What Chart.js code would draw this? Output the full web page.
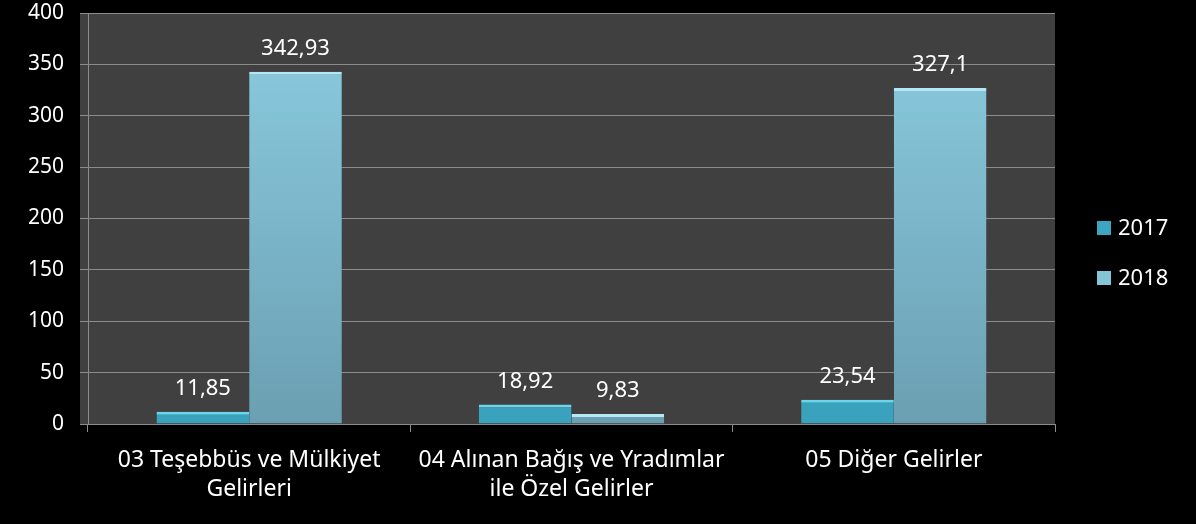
<!DOCTYPE html>
<html>
<head>
<meta charset="utf-8">
<script src="https://cdn.jsdelivr.net/npm/chart.js@4.4.1/dist/chart.umd.min.js"></script>
<style>
  html, body { margin: 0; padding: 0; background: #000; }
  #wrap { width: 1196px; height: 524px; }
</style>
</head>
<body>
<div id="wrap"><canvas id="chart" width="1196" height="524"></canvas></div>
<script>
const categories = [
  ['03 Teşebbüs ve Mülkiyet', 'Gelirleri'],
  ['04 Alınan Bağış ve Yradımlar', 'ile Özel Gelirler'],
  ['05 Diğer Gelirler']
];
const values2017 = [11.85, 18.92, 23.54];
const values2018 = [342.93, 9.83, 327.1];
const seriesNames = ['2017', '2018'];
const yTicks = [0, 50, 100, 150, 200, 250, 300, 350, 400];

const FONT = '"Noto Sans", "Open Sans", sans-serif';

function grad(ctx, top, bottom) {
  const area = ctx.chart.chartArea;
  if (!area) return bottom;
  const g = ctx.chart.ctx.createLinearGradient(0, area.top, 0, area.bottom);
  g.addColorStop(0, top);
  g.addColorStop(1, bottom);
  return g;
}

// dark plot background
const plotBg = {
  id: 'plotBg',
  beforeDraw(chart) {
    const { ctx, chartArea: a } = chart;
    ctx.save();
    ctx.fillStyle = '#404040';
    ctx.fillRect(a.left - 8, a.top, a.right - a.left + 8, a.bottom - a.top + 1);
    ctx.restore();
  }
};

// value labels above bars, comma decimals
const valueLabels = {
  id: 'valueLabels',
  afterDatasetsDraw(chart) {
    const { ctx } = chart;
    ctx.save();
    ctx.fillStyle = '#ffffff';
    ctx.font = '22px ' + FONT;
    ctx.textAlign = 'center';
    ctx.textBaseline = 'bottom';
    chart.data.datasets.forEach((ds, i) => {
      chart.getDatasetMeta(i).data.forEach((bar, j) => {
        const txt = String(ds.data[j]).replace('.', ',');
        ctx.fillText(txt, bar.x, bar.y - 12);
      });
    });
    ctx.restore();
  }
};

// legend on the right
const sideLegend = {
  id: 'sideLegend',
  afterDraw(chart) {
    const { ctx } = chart;
    const swatch = ['#3aa6c2', '#86c4d8'];
    ctx.save();
    ctx.font = '22px ' + FONT;
    ctx.textBaseline = 'middle';
    ctx.textAlign = 'left';
    chart.data.datasets.forEach((ds, i) => {
      const y = 228 + i * 50;
      ctx.fillStyle = swatch[i];
      ctx.fillRect(1097, y - 7, 14, 14);
      ctx.fillStyle = '#ffffff';
      ctx.fillText(ds.label, 1118, y + 1);
    });
    ctx.restore();
  }
};

new Chart(document.getElementById('chart'), {
  type: 'bar',
  data: {
    labels: categories,
    datasets: [
      {
        label: seriesNames[0],
        data: values2017,
        backgroundColor: '#3aa2bd',
        borderColor: '#6ad6ee',
        borderWidth: { top: 3, left: 0, right: 0, bottom: 0 },
        categoryPercentage: 0.575,
        barPercentage: 1.0
      },
      {
        label: seriesNames[1],
        data: values2018,
        backgroundColor: ctx => grad(ctx, '#8ccde2', '#6b9fb2'),
        borderColor: '#b5e6f4',
        borderWidth: { top: 3, left: 0, right: 0, bottom: 0 },
        categoryPercentage: 0.575,
        barPercentage: 1.0
      }
    ]
  },
  options: {
    responsive: false,
    animation: false,
    layout: { padding: { top: 13, right: 141, left: 0, bottom: 0 } },
    plugins: {
      legend: { display: false },
      tooltip: { enabled: false }
    },
    scales: {
      x: {
        grid: {
          offset: true,
          drawOnChartArea: false,
          drawTicks: true,
          tickLength: 8,
          color: '#8c8c8c'
        },
        border: { color: '#8c8c8c', width: 1 },
        ticks: {
          color: '#ffffff',
          font: { family: FONT, size: 23, lineHeight: 1.25 },
          padding: 14,
          maxRotation: 0,
          autoSkip: false
        },
        afterFit(scale) { scale.height = 100; scale.paddingLeft = 0; scale.paddingRight = 0; }
      },
      y: {
        min: 0,
        max: 400,
        afterBuildTicks(scale) { scale.ticks = yTicks.map(v => ({ value: v })); },
        grid: {
          color: '#8c8c8c',
          tickLength: 8,
          lineWidth: 1
        },
        border: { color: '#8c8c8c', width: 1 },
        ticks: {
          color: '#ffffff',
          font: { family: FONT, size: 21 },
          padding: 16
        },
        afterFit(scale) { scale.width = 88; scale.paddingTop = 0; scale.paddingBottom = 0; }
      }
    }
  },
  plugins: [plotBg, valueLabels, sideLegend]
});
</script>
</body>
</html>
